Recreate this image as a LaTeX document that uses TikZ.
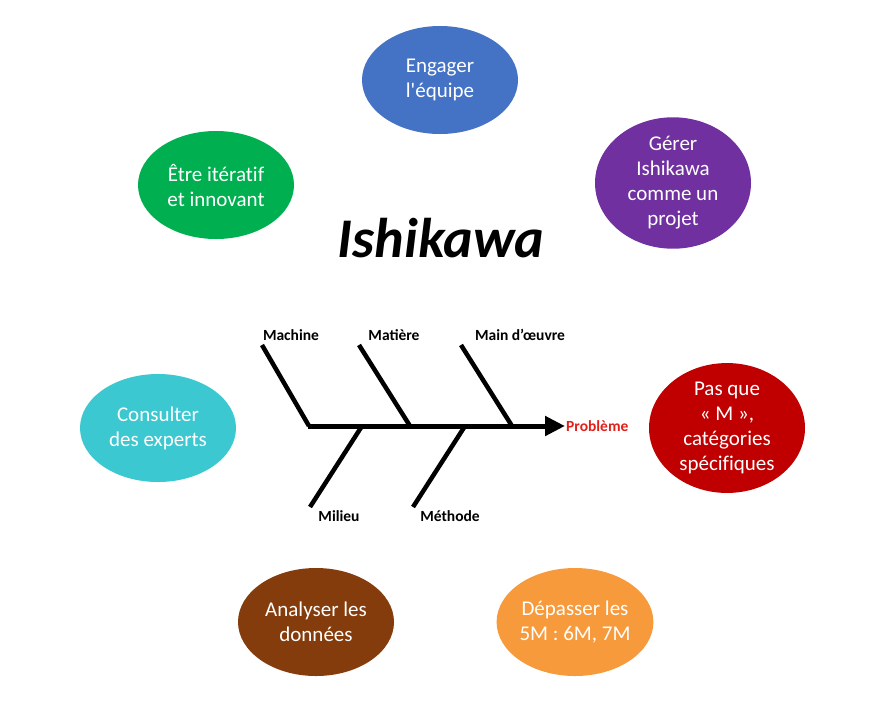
\documentclass[tikz,border=0pt]{standalone}
\usepackage{fontspec}
\setmainfont{Carlito}
\newfontfamily\ideafont[Ligatures=NoCommon]{Carlito}
\usepackage{xcolor}
\usetikzlibrary{positioning,shapes.geometric,arrows.meta}

\definecolor{ishiblue}{HTML}{4472C4}
\definecolor{ishipurple}{HTML}{7030A0}
\definecolor{ishired}{HTML}{C00000}
\definecolor{ishiorange}{HTML}{F79A3C}
\definecolor{ishibrown}{HTML}{843C0C}
\definecolor{ishicyan}{HTML}{3CC8D0}
\definecolor{ishigreen}{HTML}{00B050}
\definecolor{probred}{HTML}{E0201B}

\begin{document}
\begin{tikzpicture}[
    x=1pt, y=-1pt,
    idea/.style={ellipse, minimum width=156pt, minimum height=108pt, inner sep=0pt,
        align=center, text=white, font=\ideafont\fontsize{21}{25}\selectfont},
    bone/.style={line width=4.5pt},
    cause/.style={font=\fontsize{15.5}{18}\selectfont\bfseries, inner sep=1pt}
]
\useasboundingbox (0,0) rectangle (885,702);

% ellipses around the title
\node[idea, fill=ishiblue]   (engager)   at (440,80)  {Engager\\l'équipe};
\node[idea, fill=ishipurple] (gerer)     at (673,183) {Gérer\\Ishikawa\\comme un\\projet};
\node[idea, fill=ishired]    (pasque)    at (727,428) {Pas que\\« M »,\\catégories\\spécifiques};
\node[idea, fill=ishiorange] (depasser)  at (575,622) {Dépasser les\\5M : 6M, 7M};
\node[idea, fill=ishibrown]  (analyser)  at (316,622) {Analyser les\\données};
\node[idea, fill=ishicyan]   (consulter) at (158,428) {Consulter\\des experts};
\node[idea, fill=ishigreen]  (etre)      at (216,185) {Être itératif\\et innovant};

\node[font=\fontsize{56}{64}\selectfont\bfseries\itshape] (titre) at (441,238) {Ishikawa};

% fishbone
\coordinate (tail) at (308,426);
\coordinate (head) at (565,426);
\draw[line width=5pt, -{Triangle[length=20pt,width=19pt]}] (tail) -- (head);
\node[cause, text=probred, anchor=west] (probleme) at (head) {Problème};

\coordinate (machine0) at (262,345);
\coordinate (machine1) at (309,426);
\coordinate (matiere0) at (359,345);
\coordinate (matiere1) at (410,426);
\coordinate (main0)    at (461,345);
\coordinate (main1)    at (512,426);
\coordinate (milieu0)  at (362,426);
\coordinate (milieu1)  at (310,507);
\coordinate (methode0) at (465,426);
\coordinate (methode1) at (413,507);

\draw[bone] (machine0) -- (machine1);
\draw[bone] (matiere0) -- (matiere1);
\draw[bone] (main0) -- (main1);
\draw[bone] (milieu0) -- (milieu1);
\draw[bone] (methode0) -- (methode1);

\node[cause] (machine) at (291,335) {Machine};
\node[cause] (matiere) at (394,335) {Matière};
\node[cause] (main)    at (520,335) {Main d’œuvre};
\node[cause] (milieu)  at (339,516) {Milieu};
\node[cause] (methode) at (450,516) {Méthode};
\end{tikzpicture}
\end{document}
